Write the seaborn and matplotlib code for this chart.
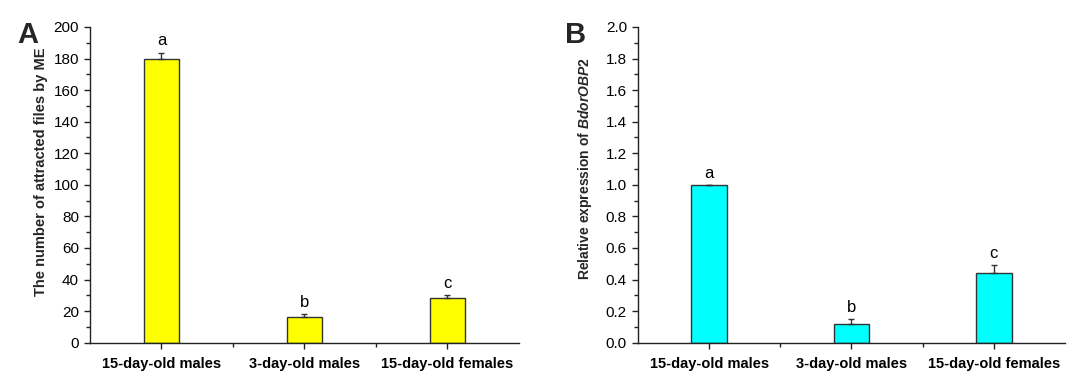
import matplotlib
matplotlib.use("Agg")
import matplotlib.pyplot as plt
import seaborn as sns
import pandas as pd
from matplotlib.ticker import MultipleLocator, FixedLocator

categories = ["15-day-old males", "3-day-old males", "15-day-old females"]
attracted = [180.0, 16.5, 28.5]
attracted_err = [3.8, 1.9, 1.9]
expression = [1.0, 0.12, 0.44]
expression_err = [0.0, 0.03, 0.05]
letters = ["a", "b", "c"]

sns.set_theme(style="ticks")
plt.rcParams["font.family"] = ["Liberation Sans", "DejaVu Sans"]
plt.rcParams["mathtext.fontset"] = "custom"
plt.rcParams["mathtext.it"] = "Liberation Sans:italic:bold"
plt.rcParams["mathtext.rm"] = "Liberation Sans:bold"

fig = plt.figure(figsize=(10.79, 3.75), dpi=100)
axA = fig.add_axes([0.0834, 0.0861, 0.3976, 0.8419])
axB = fig.add_axes([0.5913, 0.0861, 0.3957, 0.8419])


def panel(ax, vals, errs, color, ylim, major, minor, ylabel, letter_txt, fmt,
          label_x, label_y, label_size):
    df = pd.DataFrame({"cat": categories, "val": vals})
    sns.barplot(data=df, x="cat", y="val", color=color, saturation=1,
                width=0.25, edgecolor="#333333", linewidth=1.0, ax=ax)
    xs = list(range(len(categories)))
    ax.errorbar(xs, vals, yerr=[[0] * len(errs), errs], fmt="none",
                ecolor="#333333", elinewidth=1.0, capsize=2.5, capthick=1.0)
    for x, v, e, l in zip(xs, vals, errs, letters):
        ax.annotate(l, (x, v + e), xytext=(0, 3), textcoords="offset points",
                    ha="center", va="bottom", fontsize=12, color="black")
    ax.set_xlim(-0.5, 2.5)
    ax.set_ylim(*ylim)
    ax.yaxis.set_major_locator(MultipleLocator(major))
    ax.yaxis.set_minor_locator(MultipleLocator(minor))
    ax.xaxis.set_minor_locator(FixedLocator([0.5, 1.5]))
    ax.yaxis.set_major_formatter(matplotlib.ticker.FormatStrFormatter(fmt))
    for s in ["top", "right"]:
        ax.spines[s].set_visible(False)
    for s in ["left", "bottom"]:
        ax.spines[s].set_linewidth(1.0)
        ax.spines[s].set_color("#222222")
    ax.tick_params(axis="both", which="major", direction="out", length=4.5,
                   width=1.0, color="#222222", labelsize=11, labelcolor="black")
    ax.tick_params(axis="both", which="minor", direction="out", length=3,
                   width=1.0, color="#222222")
    ax.tick_params(axis="x", which="major", pad=6)
    for t in ax.get_xticklabels():
        t.set_fontweight("bold")
        t.set_fontsize(10.5)
    ax.set_xlabel("")
    ax.set_ylabel(ylabel, fontsize=label_size, fontweight="bold")
    ax.yaxis.set_label_coords(label_x, label_y)
    ax.text(-0.17, 1.02, letter_txt, transform=ax.transAxes, fontsize=21,
            fontweight="bold", ha="left", va="top")


panel(axA, attracted, attracted_err, "#FFFF00", (0, 200), 20, 10,
      "The number of attracted files by ME", "A", "%d", -0.099, 0.54, 10.5)
panel(axB, expression, expression_err, "#00FFFF", (0, 2.0), 0.2, 0.1,
      "Relative expression of $BdorOBP2$", "B", "%.1f", -0.104, 0.55, 10)

fig.savefig("out.png", dpi=100)
